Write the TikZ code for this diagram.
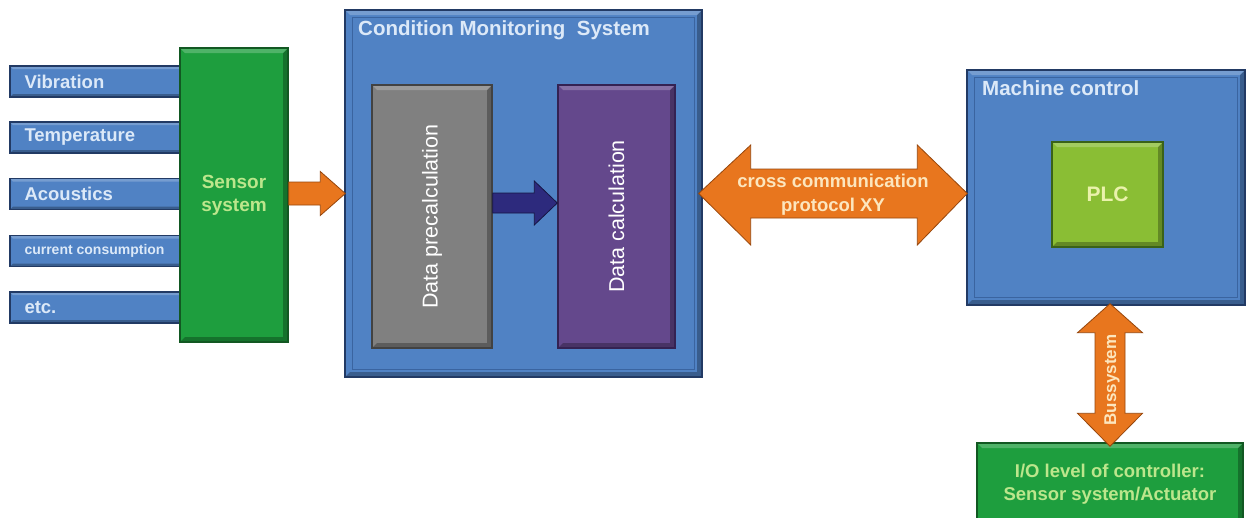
\documentclass[tikz,border=0pt]{standalone}
\usepackage{fontspec}
\setmainfont{Liberation Sans}
\usetikzlibrary{calc}
\definecolor{cblue}{RGB}{80,130,196}
\definecolor{cbluedark}{RGB}{34,58,100}
\definecolor{cblueline}{RGB}{58,100,160}
\definecolor{cgreen}{RGB}{30,158,62}
\definecolor{cgreendark}{RGB}{18,88,34}
\definecolor{cgray}{RGB}{128,128,128}
\definecolor{cgraydark}{RGB}{66,66,66}
\definecolor{cpurple}{RGB}{100,72,140}
\definecolor{cpurpledark}{RGB}{52,34,82}
\definecolor{clime}{RGB}{138,190,52}
\definecolor{climedark}{RGB}{58,98,24}
\definecolor{corange}{RGB}{232,118,30}
\definecolor{corangedark}{RGB}{150,70,12}
\definecolor{cnavy}{RGB}{45,42,125}
\definecolor{cnavydark}{RGB}{22,20,66}
\definecolor{tblue}{RGB}{220,233,248}
\definecolor{tgreen}{RGB}{188,230,140}
\definecolor{tlime}{RGB}{234,242,172}
\definecolor{tpeach}{RGB}{252,230,190}
\tikzset{
  bevel/.style={path picture={
    \fill[black,opacity=0.28] (path picture bounding box.south west) -- (path picture bounding box.south east) -- (path picture bounding box.north east) -- ([xshift=-#1,yshift=-#1]path picture bounding box.north east) -- ([xshift=-#1,yshift=#1]path picture bounding box.south east) -- ([xshift=#1,yshift=#1]path picture bounding box.south west) -- cycle;
    \fill[white,opacity=0.22] (path picture bounding box.north west) -- (path picture bounding box.north east) -- ([xshift=-#1,yshift=-#1]path picture bounding box.north east) -- ([xshift=#1,yshift=-#1]path picture bounding box.north west) -- cycle;
  }},
  box/.style 2 args={rectangle, fill=#1, draw=#2, line width=1.4pt, inner sep=0pt},
  barbox/.style={box={cblue}{cbluedark}, bevel=3pt, minimum width=172pt, minimum height=31pt},
  bartext/.style={anchor=west, text=tblue, font=\bfseries\fontsize{18.5}{22}\selectfont, inner sep=0pt},
  bigblue/.style={box={cblue}{cbluedark}, bevel=5pt},
  titletext/.style={anchor=base west, text=tblue, font=\bfseries\fontsize{20.5}{24}\selectfont, inner sep=0pt},
  blockarrow/.style 2 args={fill=#1, draw=#2, line width=0.8pt, line join=miter},
}
\begin{document}
\begin{tikzpicture}[x=1pt,y=-1pt]
\clip (0,0) rectangle (1250,517);
\fill[white] (0,0) rectangle (1250,517);

% input bars
\node[barbox] (vib)  at (96,81.5)  {};
\node[barbox] (temp) at (96,137.5) {};
\node[barbox] (acou) at (96,194)   {};
\node[barbox] (curr) at (96,251)   {};
\node[barbox] (etc)  at (96,307.5) {};
\node[bartext] (vibt)  at ([xshift=15pt]vib.west)  {Vibration};
\node[bartext] (tempt) at ([xshift=15pt]temp.west) {Temperature};
\node[bartext] (acout) at ([xshift=15pt]acou.west) {Acoustics};
\node[bartext, font=\bfseries\fontsize{14}{16}\selectfont] (currt) at ([xshift=15pt]curr.west) {current consumption};
\node[bartext] (etct)  at ([xshift=15pt]etc.west)  {etc.};

% sensor system
\node[box={cgreen}{cgreendark}, bevel=5pt, minimum width=108pt, minimum height=294pt,
      text=tgreen, align=center, font=\bfseries\fontsize{19}{23}\selectfont] (sensor) at (234,195) {Sensor\\system};

% condition monitoring system
\node[bigblue, minimum width=357pt, minimum height=367pt] (cms) at (523.5,193.5) {};
\draw[cblueline, line width=0.8pt] ([xshift=8pt,yshift=-8pt]cms.north west) rectangle ([xshift=-8pt,yshift=8pt]cms.south east);
\node[titletext] (cmst) at (358,35) {Condition Monitoring\ \ System};

\node[box={cgray}{cgraydark}, bevel=5pt, minimum width=120pt, minimum height=263pt] (gray) at (432,216.5) {};
\node[rotate=90, text=white, font=\fontsize{21.5}{25}\selectfont] (grayt) at (gray.center) {Data precalculation};
\node[box={cpurple}{cpurpledark}, bevel=5pt, minimum width=117pt, minimum height=263pt] (purple) at (616.5,216.5) {};
\node[rotate=90, text=white, font=\fontsize{21.5}{25}\selectfont] (purplet) at (purple.center) {Data calculation};

% machine control
\node[bigblue, minimum width=278pt, minimum height=235pt] (mc) at (1106,187.5) {};
\draw[cblueline, line width=0.8pt] ([xshift=8pt,yshift=-8pt]mc.north west) rectangle ([xshift=-8pt,yshift=8pt]mc.south east);
\node[titletext] (mct) at (982,95) {Machine control};
\node[box={clime}{climedark}, bevel=5pt, minimum width=111pt, minimum height=105pt,
      text=tlime, font=\bfseries\fontsize{21}{24}\selectfont] (plc) at (1107.5,194.5) {PLC};

% I/O level
\node[box={cgreen}{cgreendark}, bevel=5pt, minimum width=266pt, minimum height=82pt,
      text=tgreen, align=center, font=\bfseries\fontsize{18.5}{23}\selectfont] (io) at (1110,484) {I/O level of controller:\\Sensor system/Actuator};

% sensor -> cms arrow
\draw[blockarrow={corange}{corangedark}] let \p1=(sensor.east), \p2=(cms.west) in
  (\x1,\y1+13pt) -- (\x2-24pt,\y1+13pt) -- (\x2-24pt,\y1+23.5pt) -- (\x2+1pt,\y1+1.5pt)
  -- (\x2-24pt,\y1-20.5pt) -- (\x2-24pt,\y1-10pt) -- (\x1,\y1-10pt) -- cycle;

% precalculation -> calculation arrow
\draw[blockarrow={cnavy}{cnavydark}] let \p1=([yshift=13.5pt]gray.east), \p2=(purple.west) in
  (\x1,\y1+10pt) -- (\x2-23pt,\y1+10pt) -- (\x2-23pt,\y1+22pt) -- (\x2,\y1)
  -- (\x2-23pt,\y1-22pt) -- (\x2-23pt,\y1-10pt) -- (\x1,\y1-10pt) -- cycle;

% cross communication double arrow
\draw[blockarrow={corange}{corangedark}] let \p1=(cms.east), \p2=(mc.west) in
  (\x1-4pt,\y1) -- (\x1+48pt,\y1+48.5pt) -- (\x1+48pt,\y1+24.5pt) -- (\x2-49pt,\y1+24.5pt)
  -- (\x2-49pt,\y1+48.5pt) -- (\x2+1pt,\y1) -- (\x2-49pt,\y1-51.5pt) -- (\x2-49pt,\y1-24.5pt)
  -- (\x1+48pt,\y1-24.5pt) -- (\x1+48pt,\y1-51.5pt) -- cycle;
\node[text=tpeach, align=center, font=\bfseries\fontsize{18.5}{24}\selectfont] (crosst) at (833,195) {cross communication\\protocol XY};

% bus system double arrow
\draw[blockarrow={corange}{corangedark}] let \p1=(mc.south), \p2=(io.north) in
  (\x1+4pt,\y1+2pt) -- (\x1+36.5pt,\y1-27pt) -- (\x1+19pt,\y1-27pt) -- (\x1+19pt,\y2+29pt)
  -- (\x1+36.5pt,\y2+29pt) -- (\x1+4pt,\y2-4pt) -- (\x1-28.5pt,\y2+29pt) -- (\x1-11pt,\y2+29pt)
  -- (\x1-11pt,\y1-27pt) -- (\x1-28.5pt,\y1-27pt) -- cycle;
\node[rotate=90, text=tpeach, font=\bfseries\fontsize{17}{20}\selectfont] (bust) at (1112,380) {Bussystem};
\end{tikzpicture}
\end{document}
